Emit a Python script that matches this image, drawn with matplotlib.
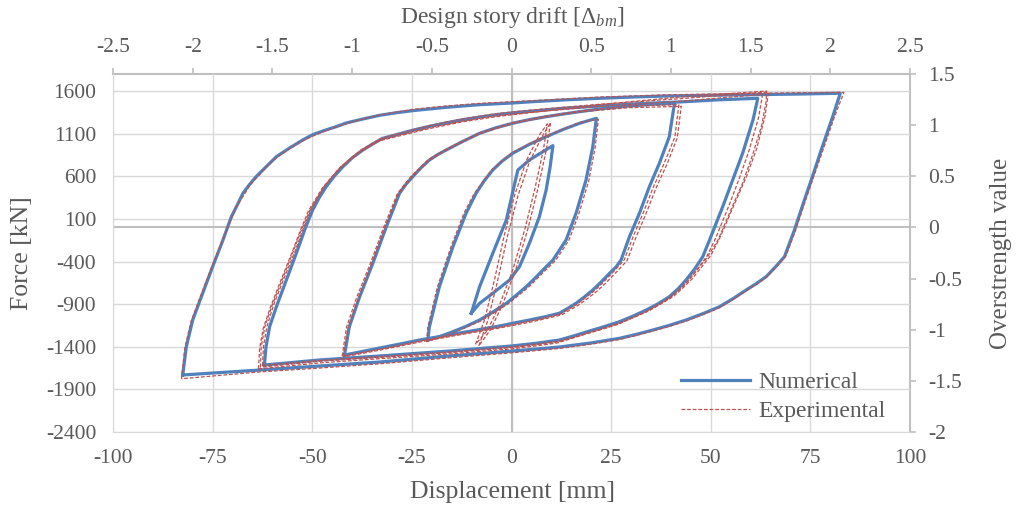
import matplotlib
matplotlib.use("Agg")
import matplotlib.pyplot as plt
from matplotlib.lines import Line2D
import numpy as np

plt.rcParams['font.family'] = ['Liberation Serif', 'DejaVu Sans']
plt.rcParams['mathtext.fontset'] = 'custom'
plt.rcParams['mathtext.rm'] = 'Liberation Serif'
plt.rcParams['mathtext.it'] = 'Liberation Serif:italic'
plt.rcParams['axes.unicode_minus'] = False

## axis ticks and labels
x_ticks = [-100, -75, -50, -25, 0, 25, 50, 75, 100]
y_ticks = [-2400, -1900, -1400, -900, -400, 100, 600, 1100, 1600]
drift_ticks = [-2.5, -2, -1.5, -1, -0.5, 0, 0.5, 1, 1.5, 2, 2.5]
drift_labels = ['-2.5', '-2', '-1.5', '-1', '-0.5', '0', '0.5', '1', '1.5', '2', '2.5']
over_ticks = [-2, -1.5, -1, -0.5, 0, 0.5, 1, 1.5]
over_labels = ['-2', '-1.5', '-1', '-0.5', '0', '0.5', '1', '1.5']
mm_per_drift = 40.0
kn_per_over = 1200.0

## numerical loops (displacement mm, force kN), upper branch then lower branch
num_loop_10 = [(-10.1, -1007), (-8.0, -695), (-4.7, -304), (-1.3, 87), (1.2, 595), (1.6, 674),
               (4.5, 791), (7.9, 889), (10.4, 960),
               (9.7, 713), (8.7, 439), (7.0, 126), (4.5, -186), (2.0, -461), (-0.5, -617),
               (-4.7, -773), (-8.0, -890), (-10.1, -1007)]
num_loop_21 = [(-21.0, -1321), (-20.6, -1165), (-18.1, -695), (-14.7, -226), (-11.4, 166),
               (-8.9, 400), (-6.8, 550), (-4.7, 674), (-2.3, 780), (0.3, 870), (4.5, 975),
               (8.7, 1064), (13.0, 1150), (17.1, 1222), (21.3, 1280),
               (20.4, 947), (18.7, 556), (16.2, 166), (13.7, -147), (10.4, -382), (7.9, -499),
               (5.8, -600), (3.7, -695), (1.2, -795), (-1.3, -890), (-4.6, -990), (-8.0, -1086),
               (-11.4, -1160), (-14.7, -1223), (-18.0, -1280), (-21.0, -1321)]
num_loop_41 = [(-41.9, -1497), (-40.7, -1165), (-38.1, -813), (-34.8, -421), (-31.4, 9),
               (-28.1, 400), (-26.5, 505), (-24.8, 595), (-22.7, 700), (-20.6, 791),
               (-18.5, 855), (-16.4, 908), (-12.2, 1010), (-8.0, 1104), (-4.0, 1168),
               (0.3, 1222), (4.5, 1265), (8.7, 1299), (12.9, 1330), (17.1, 1358), (23.0, 1395),
               (29.6, 1425), (35.0, 1443), (40.9, 1456),
               (39.6, 1064), (37.1, 752), (34.6, 478), (32.1, 166), (29.6, -109), (27.5, -382),
               (26.2, -465), (24.6, -538), (22.5, -640), (20.4, -734), (18.3, -815),
               (16.2, -890), (14.1, -950), (12.0, -1007), (8.2, -1050), (4.5, -1086),
               (0.7, -1121), (-3.0, -1156), (-8.0, -1198), (-13.0, -1239), (-18.0, -1280),
               (-23.1, -1321), (-28.0, -1368), (-33.1, -1415), (-37.5, -1456), (-41.9, -1497)]
num_loop_62 = [(-62.0, -1614), (-61.6, -1399), (-60.7, -1165), (-59.0, -930), (-56.5, -617),
               (-54.0, -304), (-51.9, -30), (-50.9, 90), (-49.9, 204), (-48.3, 345),
               (-46.5, 478), (-44.5, 600), (-42.3, 713), (-40.0, 815), (-37.3, 908),
               (-34.8, 980), (-32.3, 1046), (-28.9, 1088), (-24.8, 1140), (-20.6, 1186),
               (-16.4, 1227), (-12.2, 1264), (-8.0, 1295), (-3.8, 1323), (0.3, 1345),
               (4.5, 1362), (13.0, 1398), (22.1, 1425), (32.0, 1452), (42.2, 1472),
               (52.0, 1497), (61.8, 1515),
               (60.6, 1260), (58.0, 870), (55.5, 556), (53.0, 243), (49.7, -147), (48.0, -343),
               (46.0, -485), (43.8, -617), (41.8, -720), (39.6, -813), (36.8, -895),
               (33.8, -969), (30.5, -1040), (27.1, -1106), (23.4, -1162), (19.6, -1215),
               (15.8, -1270), (12.0, -1321), (6.0, -1360), (0.0, -1391), (-15.6, -1450),
               (-33.1, -1508), (-48.2, -1555), (-62.0, -1614)]
num_loop_83 = [(-82.5, -1731), (-81.6, -1399), (-80.0, -1086), (-77.5, -773), (-75.0, -461),
               (-72.4, -147), (-70.3, 126), (-68.8, 265), (-67.4, 400), (-65.8, 500),
               (-64.1, 595), (-61.5, 715), (-59.0, 830), (-57.3, 882), (-55.7, 932),
               (-54.0, 980), (-52.4, 1026), (-49.9, 1088), (-47.0, 1137), (-44.0, 1182),
               (-41.5, 1225), (-37.3, 1272), (-33.1, 1315), (-29.0, 1345), (-24.8, 1370),
               (-16.4, 1409), (-8.0, 1440), (0.3, 1460), (5.3, 1475), (13.7, 1497),
               (22.1, 1515), (30.5, 1530), (38.8, 1542), (55.5, 1554), (72.3, 1565),
               (82.5, 1574),
               (80.6, 1299), (78.0, 947), (75.5, 595), (73.5, 322), (71.0, -30), (68.5, -343),
               (66.2, -465), (63.9, -578), (61.4, -660), (58.9, -734), (55.6, -835),
               (52.2, -930), (48.0, -1012), (43.8, -1086), (39.7, -1148), (35.5, -1203),
               (31.3, -1255), (27.1, -1301), (20.0, -1355), (12.0, -1403), (0.3, -1450),
               (-15.6, -1508), (-33.1, -1579), (-48.2, -1626), (-63.2, -1673), (-82.5, -1731)]

## experimental cycles
exp_loop_9a = [(-9.0, -1370), (-6.8, -1090), (-4.3, -620), (-1.8, -90), (0.8, 380), (3.8, 790),
               (7.0, 1085), (9.0, 1215),
               (8.0, 910), (5.8, 440), (3.3, -30), (0.3, -500), (-3.0, -910), (-6.0, -1205),
               (-9.0, -1370)]
exp_loop_9b = [(-8.2, -1390), (-6.0, -1100), (-3.5, -630), (-1.0, -100), (1.6, 370), (4.6, 780),
               (7.8, 1075), (9.8, 1230),
               (8.8, 925), (6.6, 450), (4.1, -20), (1.1, -490), (-2.2, -900), (-5.2, -1195),
               (-8.2, -1390)]
exp_loop_21 = [(-21.3, -1340), (-21.0, -1170), (-18.6, -700), (-15.2, -230), (-12.0, 160),
               (-9.4, 395), (-5.0, 675), (0.1, 875), (4.4, 980), (8.7, 1075), (17.1, 1230),
               (21.8, 1270),
               (21.0, 940), (19.4, 550), (16.9, 160), (14.4, -150), (11.1, -385), (8.6, -500),
               (4.3, -700), (-0.8, -895), (-7.6, -1095), (-14.5, -1235), (-21.3, -1340)]
exp_loop_41a = [(-42.5, -1510), (-41.4, -1170), (-38.8, -815), (-35.4, -420), (-32.0, 10),
                (-28.6, 400), (-25.2, 600), (-20.8, 800), (-16.4, 915), (-12.2, 1015),
                (-8.0, 1110), (0.3, 1230), (8.7, 1305), (17.1, 1365), (29.6, 1425), (42.0, 1440),
                (41.0, 1060), (38.3, 750), (35.6, 475), (33.0, 165), (30.5, -110), (28.3, -380),
                (25.2, -540), (23.0, -645), (20.9, -740), (18.7, -820), (16.6, -895),
                (12.3, -1015), (8.4, -1060), (4.5, -1100), (-3.0, -1170), (-13.0, -1250),
                (-23.1, -1335), (-33.1, -1430), (-42.5, -1510)]
exp_loop_41b = [(-42.2, -1520), (-41.0, -1180), (-38.4, -825), (-35.1, -430), (-31.7, 0),
                (-28.4, 390), (-25.0, 590), (-20.6, 790), (-16.4, 905), (-12.2, 1005),
                (-8.0, 1100), (0.3, 1220), (8.7, 1295), (17.1, 1355), (29.6, 1405), (42.6, 1420),
                (41.6, 1050), (39.0, 740), (36.3, 465), (33.7, 155), (31.2, -120), (29.0, -390),
                (25.8, -550), (23.6, -655), (21.4, -750), (19.2, -830), (17.0, -905),
                (12.6, -1025), (8.7, -1070), (4.8, -1110), (-3.0, -1180), (-13.0, -1260),
                (-23.1, -1345), (-33.1, -1440), (-42.2, -1520)]
exp_loop_62a = [(-63.0, -1640), (-62.8, -1400), (-61.9, -1165), (-60.2, -930), (-57.6, -620),
                (-55.0, -310), (-52.8, -40), (-50.6, 200), (-47.2, 470), (-43.0, 700),
                (-38.0, 890), (-33.0, 1025), (-28.9, 1075), (-20.6, 1170), (-12.2, 1250),
                (-3.8, 1310), (4.5, 1350), (22.1, 1420), (42.2, 1480), (63.0, 1560),
                (62.0, 1290), (59.6, 900), (57.2, 580), (54.6, 260), (51.2, -130), (49.0, -340),
                (46.8, -480), (44.5, -620), (42.3, -725), (40.0, -820), (37.0, -905),
                (34.0, -985), (30.6, -1057), (27.1, -1125), (23.4, -1182), (19.6, -1235),
                (15.8, -1290), (12.0, -1340), (6.0, -1378), (0.0, -1410), (-15.6, -1470),
                (-33.1, -1525), (-48.2, -1570), (-63.0, -1640)]
exp_loop_62b = [(-62.5, -1620), (-62.2, -1380), (-61.3, -1150), (-59.7, -910), (-57.1, -600),
                (-54.4, -290), (-52.3, -20), (-50.2, 220), (-46.9, 490), (-42.8, 715),
                (-37.9, 905), (-33.0, 1040), (-28.9, 1095), (-20.6, 1195), (-12.2, 1275),
                (-3.8, 1335), (4.5, 1375), (22.1, 1445), (42.2, 1510), (64.5, 1590),
                (63.6, 1300), (61.5, 920), (59.0, 600), (56.0, 280), (52.4, -110), (50.0, -330),
                (47.6, -470), (45.2, -610), (42.9, -715), (40.6, -810), (37.6, -895),
                (34.6, -975), (31.0, -1047), (27.5, -1115), (23.8, -1172), (20.0, -1225),
                (16.2, -1280), (12.4, -1330), (6.4, -1368), (0.5, -1400), (-15.0, -1460),
                (-33.0, -1515), (-48.0, -1560), (-62.5, -1620)]
exp_loop_62c = [(-63.5, -1660), (-63.2, -1420), (-62.3, -1185), (-60.6, -950), (-58.0, -635),
                (-55.3, -320), (-53.1, -50), (-51.0, 190), (-47.5, 460), (-43.3, 690),
                (-38.2, 880), (-33.2, 1015), (-28.9, 1065), (-20.6, 1160), (-12.2, 1240),
                (-3.8, 1300), (4.5, 1345), (22.1, 1440), (42.2, 1530), (64.0, 1600),
                (63.9, 1480), (62.8, 1200), (60.5, 850), (58.0, 520), (55.0, 200), (51.8, -150),
                (49.0, -360), (46.5, -500), (44.0, -640), (41.8, -740), (39.5, -830),
                (36.5, -915), (33.5, -995), (30.1, -1067), (26.8, -1135), (22.9, -1192),
                (19.0, -1245), (15.2, -1300), (11.5, -1355), (5.7, -1393), (0.0, -1425),
                (-15.6, -1485), (-33.1, -1540), (-48.2, -1590), (-63.5, -1660)]
exp_loop_83 = [(-82.8, -1775), (-82.0, -1420), (-80.4, -1100), (-77.9, -790), (-75.3, -470),
               (-72.6, -160), (-70.2, 110), (-69.0, 250), (-67.0, 390), (-65.6, 500),
               (-63.6, 600), (-61.3, 720), (-58.6, 830), (-55.5, 930), (-52.0, 1025),
               (-48.2, 1105), (-44.0, 1180), (-38.8, 1255), (-33.0, 1320), (-24.8, 1385),
               (-16.4, 1425), (-8.0, 1455), (0.3, 1475), (22.1, 1530), (38.8, 1555),
               (55.5, 1570), (72.3, 1580), (83.4, 1585),
               (81.0, 1290), (78.4, 940), (75.8, 590), (73.8, 320), (71.3, -30), (68.9, -330),
               (66.6, -455), (64.2, -575), (61.7, -660), (59.0, -740), (55.8, -840),
               (52.2, -940), (48.2, -1020), (43.8, -1100), (39.7, -1160), (35.5, -1215),
               (31.3, -1268), (27.1, -1315), (20.0, -1370), (12.0, -1420), (0.3, -1470),
               (-15.6, -1530), (-33.1, -1600), (-48.2, -1650), (-63.2, -1695), (-82.8, -1775)]

num_loops = [num_loop_10, num_loop_21, num_loop_41, num_loop_62, num_loop_83]
exp_loops = [exp_loop_9a, exp_loop_9b, exp_loop_21, exp_loop_41a, exp_loop_41b,
             exp_loop_62a, exp_loop_62b, exp_loop_62c, exp_loop_83]

blue = '#4f81bd'
red = '#c0504d'
grid_c = '#d9d9d9'
axis_c = '#bfbfbf'
text_c = '#595959'
red_dash = (0, (3, 1.5))

fig = plt.figure(figsize=(10.16, 5.15), dpi=100)
ax = fig.add_axes([113 / 1016, 83 / 515, 797 / 1016, 358 / 515])

for loop in num_loops:
    pts = np.array(loop)
    ax.plot(pts[:, 0], pts[:, 1], color=blue, lw=2.3, solid_joinstyle='round', zorder=3)
for loop in exp_loops:
    pts = np.array(loop)
    ax.plot(pts[:, 0], pts[:, 1], color=red, lw=0.9, ls=red_dash, zorder=4)

ax.set_xlim(-100, 100)
ax.set_ylim(-2400, 1800)
ax.set_xticks(x_ticks)
ax.set_yticks(y_ticks)
ax.grid(True, color=grid_c, lw=1.0)
ax.set_axisbelow(True)
ax.axvline(0, color=axis_c, lw=1.5, zorder=1)
ax.axhline(0, color=axis_c, lw=1.5, zorder=1)
ax.tick_params(length=0, labelsize=15.5, labelcolor=text_c, pad=12)
for s in ['left', 'bottom']:
    ax.spines[s].set_color(grid_c)
for s in ['top', 'right']:
    ax.spines[s].set_visible(False)

top = ax.secondary_xaxis('top', functions=(lambda x: x / mm_per_drift, lambda d: d * mm_per_drift))
top.set_xticks(drift_ticks, labels=drift_labels)
top.tick_params(direction='out', length=4, width=1.2, color=axis_c, labelsize=15.5,
                labelcolor=text_c, pad=8)
top.spines['top'].set_color(axis_c)
top.spines['top'].set_linewidth(1.5)

right = ax.secondary_yaxis('right', functions=(lambda y: y / kn_per_over, lambda v: v * kn_per_over))
right.set_yticks(over_ticks, labels=over_labels)
right.tick_params(direction='out', length=4, width=1.2, color=axis_c, labelsize=15.5,
                  labelcolor=text_c, pad=9)
right.spines['right'].set_color(axis_c)
right.spines['right'].set_linewidth(1.5)

fig.text(512 / 1016, 1 - 18 / 515, r'Design story drift [$\Delta_{bm}$]', ha='center', va='center',
         fontsize=17, color=text_c)
fig.text(512 / 1016, 1 - 492 / 515, 'Displacement [mm]', ha='center', va='center',
         fontsize=18.5, color=text_c)
fig.text(22 / 1016, 1 - 253 / 515, 'Force [kN]', ha='center', va='center', rotation=90,
         fontsize=18.5, color=text_c)
fig.text(1001 / 1016, 1 - 253 / 515, 'Overstrength value', ha='center', va='center', rotation=90,
         fontsize=18, color=text_c)

handles = [Line2D([], [], color=blue, lw=2.3), Line2D([], [], color=red, lw=0.9, ls=red_dash)]
leg = ax.legend(handles, ['Numerical', 'Experimental'], loc='lower right',
                bbox_to_anchor=((886 - 113) / 797, 10 / 358), frameon=False, fontsize=17,
                handlelength=2.9, handletextpad=0.38, labelspacing=0.3, borderpad=0,
                borderaxespad=0)
for t in leg.get_texts():
    t.set_color(text_c)

fig.savefig('out.png', dpi=100)
